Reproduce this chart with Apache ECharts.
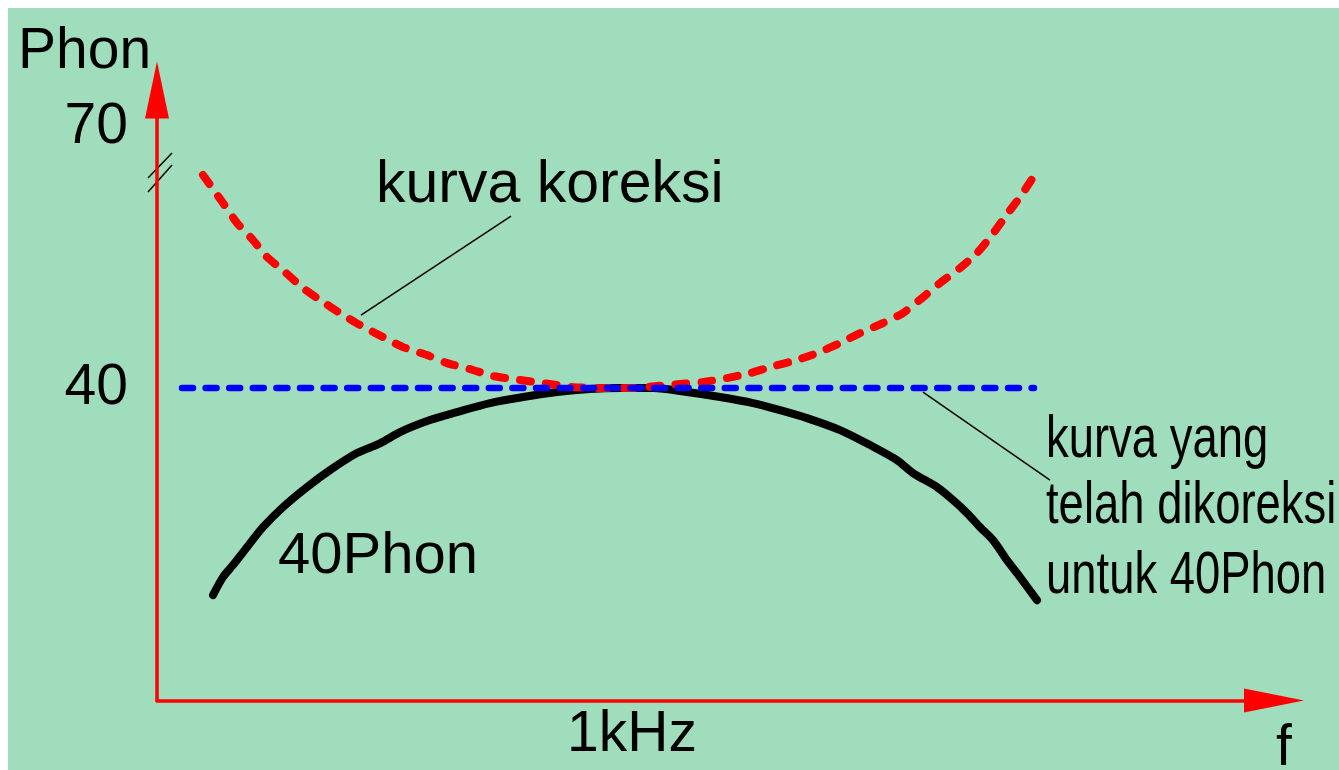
<!DOCTYPE html>
<html>
<head>
<meta charset="utf-8">
<title>Kurva koreksi 40 Phon</title>
<script src="https://cdn.jsdelivr.net/npm/echarts@6/dist/echarts.min.js"></script>
<style>
    html, body { margin: 0; padding: 0; background: #fff; }
    #paper { position: absolute; left: 8px; top: 8px; right: 0; bottom: 0; background: #a0ddbc; }
    #chart { position: absolute; left: 0; top: 0; width: 1339px; height: 770px; }
</style>
</head>
<body>
<div id="paper"></div>
<div id="chart"></div>
<script>
// x: frequency position, 0 = 1kHz (schematic); y: loudness level in phon
var X_MIN = -4.75, X_MAX = 6.42;
var Y_MIN = 4.1, Y_MAX = 74.25;

var xTicks = [0];
var xTickLabels = ['1kHz'];
var yTicks = [40, 70];

// kurva koreksi (red dashed)
var koreksiX = [-4.29, -4.09, -3.95, -3.79, -3.65, -3.47, -3.29, -3.09, -2.92, -2.72, -2.49, -2.29, -2.05, -1.85, -1.62, -1.39, -1.12, -0.89, -0.59, -0.32, -0.02,
    0.25, 0.48, 0.71, 0.95, 1.18, 1.38, 1.65, 1.85, 2.08, 2.28, 2.51, 2.71, 2.90, 3.08, 3.28, 3.45, 3.60, 3.73, 3.88, 4.00];
var koreksiY = [64.48, 61.26, 58.97, 57.01, 55.06, 53.33, 51.49, 49.89, 48.62, 47.24, 45.86, 44.71, 43.79, 42.87, 42.18, 41.38, 40.92, 40.57, 40.11, 40.0, 40.0,
    40.23, 40.46, 40.69, 41.15, 41.72, 42.41, 43.22, 44.02, 45.17, 46.32, 47.47, 48.62, 50.34, 52.07, 53.79, 55.52, 57.59, 59.66, 61.95, 64.02];

// 40 Phon equal loudness curve (black)
var phon40X = [-4.19, -4.09, -3.99, -3.85, -3.69, -3.49, -3.25, -3.02, -2.75, -2.52, -2.32, -2.02, -1.75, -1.42, -1.09, -0.75, -0.42, -0.12,
    0.21, 0.55, 0.88, 1.21, 1.48, 1.75, 2.08, 2.38, 2.65, 2.81, 3.05, 3.21, 3.35, 3.48, 3.61, 3.75, 3.88, 4.05];
var phon40Y = [16.21, 18.28, 19.66, 21.72, 24.02, 26.32, 28.62, 30.57, 32.53, 33.65, 34.94, 36.32, 37.24, 38.28, 38.97, 39.54, 39.89, 40.0,
    40.0, 39.54, 38.97, 38.28, 37.47, 36.55, 35.17, 33.45, 31.72, 30.23, 28.62, 27.13, 25.63, 24.02, 22.53, 20.23, 18.28, 15.63];

// kurva yang telah dikoreksi (blue dashed, flat)
var flatX = [-4.50, 4.02];
var flatY = [40, 40];

// leader lines from the labels to the curves
var leaderKoreksi = [[-2.71, 48.39], [-1.21, 59.77]];
var leaderFlat = [[2.91, 39.54], [4.18, 29.43]];

var labelKoreksi = 'kurva koreksi';
var label40 = '40Phon';
var labelFlat = ['kurva yang', 'telah dikoreksi', 'untuk 40Phon'];

var FONT = "'Liberation Sans', Arial, sans-serif";

function zip(xs, ys) {
    return xs.map(function (x, i) { return [x, ys[i]]; });
}

function textEl(str, x, y, size, squeeze) {
    return {
        type: 'text', left: x, top: y, silent: true,
        scaleX: squeeze || 1,
        style: { text: str, fontSize: size || 58, fontFamily: FONT, fill: '#000', verticalAlign: 'middle' }
    };
}

function lineEl(x1, y1, x2, y2) {
    return { type: 'line', silent: true, shape: { x1: x1, y1: y1, x2: x2, y2: y2 }, style: { stroke: '#000', lineWidth: 1.5 } };
}

function buildGraphic() {
    var els = [
        textEl('Phon', 18, 24, 57),
        textEl(labelKoreksi, 376, 156, 59),
        textEl(label40, 278, 528),
        textEl('f', 1276, 721, 57),
        lineEl(148, 178, 172, 153),
        lineEl(148, 192, 172, 165)
    ];
    var tops = [411, 477, 547];
    labelFlat.forEach(function (s, i) {
        els.push(textEl(s, 1046, tops[i], 59, 0.77));
    });
    return els;
}

function buildOption() {
    return {
        animation: false,
        grid: { left: 157, top: 90, right: 65, bottom: 69.5 },
        xAxis: {
            type: 'value', min: X_MIN, max: X_MAX,
            axisLine: { show: true, onZero: false, symbol: ['none', 'triangle'], symbolSize: [24, 60], lineStyle: { color: '#ff0000', width: 3.5 } },
            axisTick: { show: false },
            splitLine: { show: false },
            axisLabel: {
                customValues: xTicks, margin: 6, fontSize: 57, fontFamily: FONT, color: '#000',
                formatter: function (v) { return xTickLabels[xTicks.indexOf(v)] || ''; }
            }
        },
        yAxis: {
            type: 'value', min: Y_MIN, max: Y_MAX,
            axisLine: { show: true, onZero: false, symbol: ['none', 'triangle'], symbolSize: [24, 57], lineStyle: { color: '#ff0000', width: 3.5 } },
            axisTick: { show: false },
            splitLine: { show: false },
            axisLabel: {
                customValues: yTicks, margin: 29, fontSize: 57, fontFamily: FONT, color: '#000',
                formatter: function (v) { return String(v); }
            }
        },
        series: [
            {
                name: '40Phon', type: 'line', data: zip(phon40X, phon40Y), symbol: 'none', smooth: 0.3, silent: true,
                lineStyle: { color: '#000', width: 8, cap: 'round', join: 'round' },
                markLine: {
                    silent: true, symbol: ['none', 'none'], label: { show: false },
                    lineStyle: { color: '#000', width: 1.5, type: 'solid' },
                    data: [
                        [{ coord: leaderKoreksi[0] }, { coord: leaderKoreksi[1] }],
                        [{ coord: leaderFlat[0] }, { coord: leaderFlat[1] }]
                    ]
                }
            },
            {
                name: labelKoreksi, type: 'line', data: zip(koreksiX, koreksiY), symbol: 'none', smooth: 0.2, silent: true,
                lineStyle: { color: '#ff0000', width: 8, type: [11, 15], cap: 'round', join: 'round' }
            },
            {
                name: 'dikoreksi', type: 'line', data: zip(flatX, flatY), symbol: 'none', silent: true,
                lineStyle: { color: '#0000ff', width: 6.5, type: [11, 12.6], cap: 'round' }
            }
        ],
        graphic: buildGraphic()
    };
}

var chart = echarts.init(document.getElementById('chart'));
chart.setOption(buildOption());
</script>
</body>
</html>
